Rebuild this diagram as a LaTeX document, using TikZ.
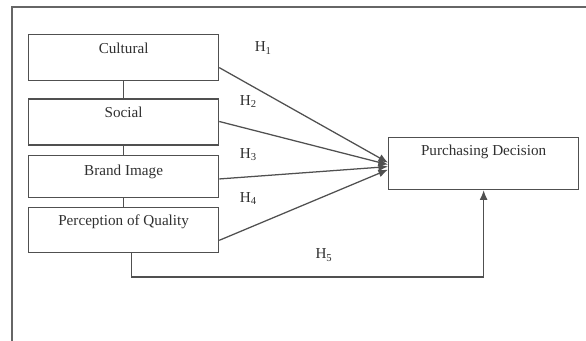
\documentclass[tikz,border=0pt]{standalone}
\usepackage{fontspec}
\setmainfont{Liberation Serif}
\usepackage{xcolor}
\usepackage{tikz}
\usetikzlibrary{arrows.meta, positioning, calc}
\definecolor{linegray}{HTML}{505050}
\definecolor{textgray}{HTML}{303030}
\tikzset{
  varbox/.style={
    draw=linegray, line width=0.9pt, align=center,
    font=\fontsize{10.8}{13}\selectfont, text=textgray,
    minimum width=4.75cm, inner ysep=0pt,
    text height=0.46cm, text depth=0.69cm
  },
  hyplabel/.style={
    font=\fontsize{10.8}{13}\selectfont, text=textgray, inner sep=1pt
  },
  linkline/.style={draw=linegray, line width=0.9pt},
  linkarrow/.style={
    -{Latex[length=2.4mm, width=2mm]}, draw=linegray, line width=0.9pt
  },
  framerule/.style={draw=gray!80!black, line width=0.9pt},
}

\begin{document}
\begin{tikzpicture}
  \useasboundingbox (0,0) rectangle (14.65,-8.525);

  % ── Frame ──
  \draw[framerule] (14.65,-0.175) -- (0.3,-0.175) -- (0.3,-8.525);

  % ── Independent variables ──
  \node[varbox, anchor=north west] at (0.7,-0.85)
    (cult) {Cultural};

  \node[varbox, below=0.425cm of cult]
    (soc) {Social};

  \node[varbox, below=0.225cm of soc, text height=0.51cm, text depth=0.54cm]
    (brand) {Brand Image};

  \node[varbox, below=0.225cm of brand, text depth=0.665cm]
    (perc) {Perception of Quality};

  % ── Dependent variable ──
  \node[varbox, anchor=north west, text height=0.435cm, text depth=0.865cm]
    at (9.7,-3.425) (dec) {Purchasing Decision};

  % ── Hypotheses ──
  \node[hyplabel] (h1) at ([xshift=1.1cm, yshift=-0.35cm]cult.north east) {H\textsubscript{1}};
  \node[hyplabel] (h2) at ([xshift=0.73cm, yshift=-0.08cm]soc.north east) {H\textsubscript{2}};
  \node[hyplabel] (h3) at ([xshift=0.73cm, yshift=0cm]brand.north east) {H\textsubscript{3}};
  \node[hyplabel] (h4) at ([xshift=0.73cm, yshift=0.2cm]perc.north east) {H\textsubscript{4}};
  \node[hyplabel] (h5) at ([xshift=7.4cm, yshift=-0.05cm]perc.south west) {H\textsubscript{5}};

  % ── Links ──
  \draw[linkline] (cult) -- (soc);
  \draw[linkline] (soc) -- (brand);
  \draw[linkline] (brand) -- (perc);

  \draw[linkarrow] ([yshift=-0.25cm]cult.east) -- ([yshift=0.025cm]dec.west);
  \draw[linkarrow] ([yshift=0.01cm]soc.east) -- ([yshift=-0.025cm]dec.west);
  \draw[linkarrow] ([yshift=-0.07cm]brand.east) -- ([yshift=-0.075cm]dec.west);
  \draw[linkarrow] ([yshift=-0.26cm]perc.east) -- ([yshift=-0.15cm]dec.west);
  \draw[linkarrow] ([xshift=0.2cm]perc.south) -- ++(0,-0.6) -| (dec.south);
\end{tikzpicture}
\end{document}
